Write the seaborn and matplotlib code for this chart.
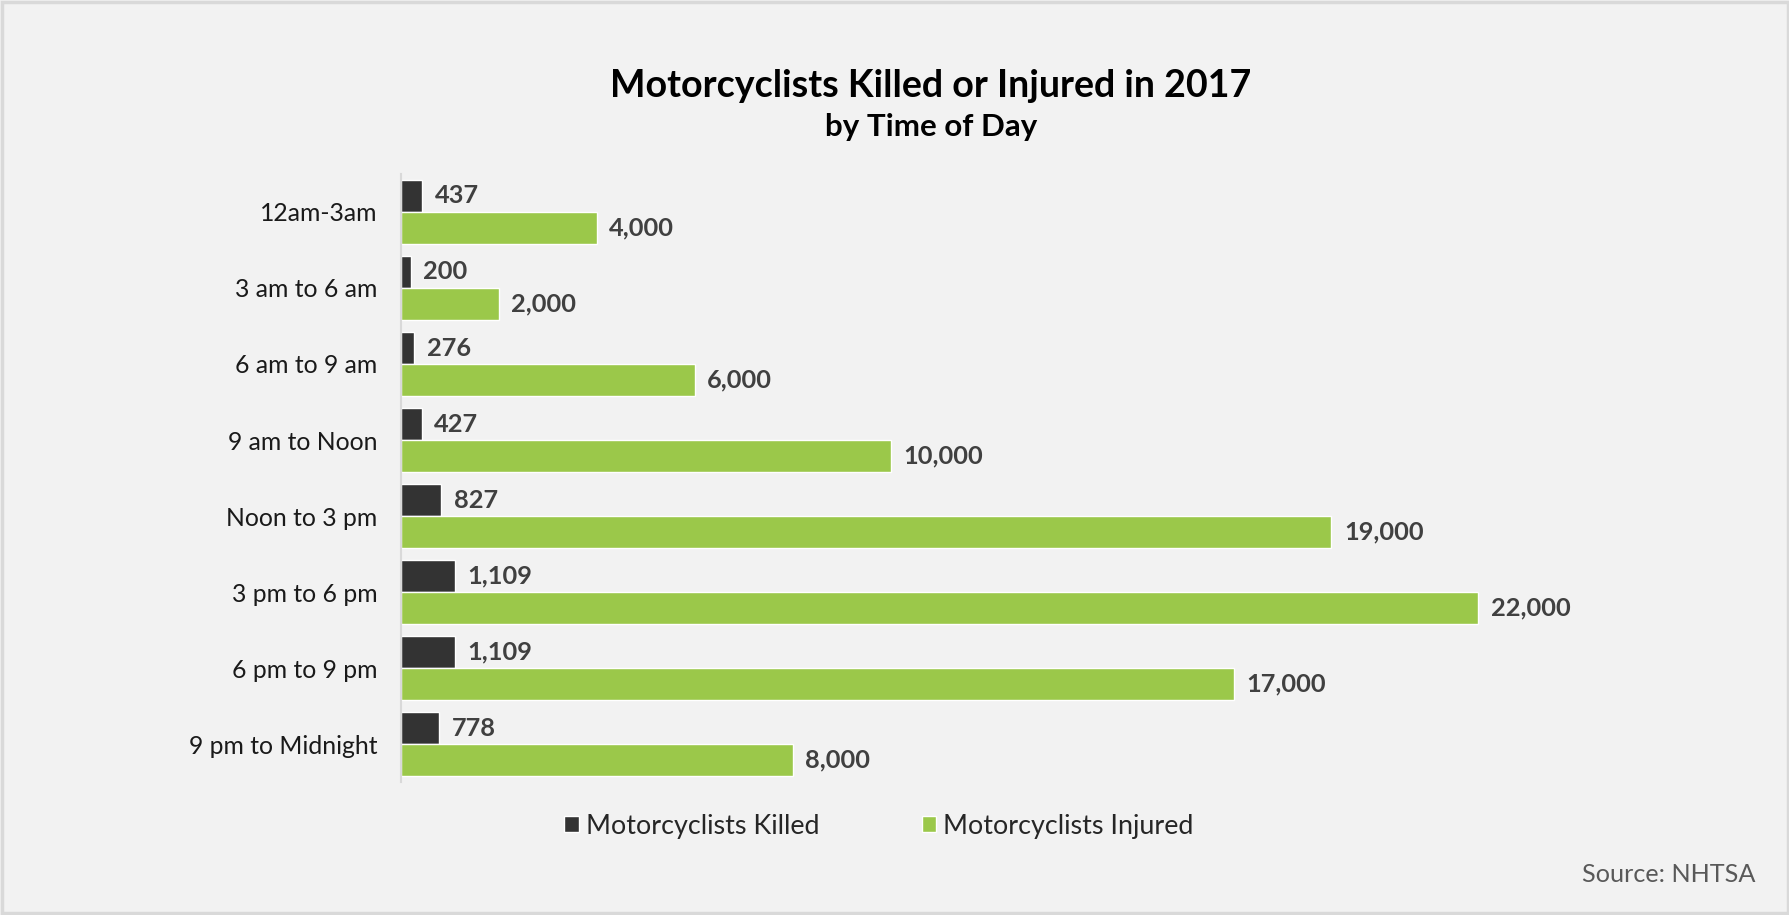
import pandas as pd
import seaborn as sns
import matplotlib.pyplot as plt
from matplotlib.patches import Rectangle

# 数据
periods = ['12am-3am', '3 am to 6 am', '6 am to 9 am', '9 am to Noon',
           'Noon to 3 pm', '3 pm to 6 pm', '6 pm to 9 pm', '9 pm to Midnight']
killed = [437, 200, 276, 427, 827, 1109, 1109, 778]
injured = [4000, 2000, 6000, 10000, 19000, 22000, 17000, 8000]
series_names = ['Motorcyclists Killed', 'Motorcyclists Injured']
colors = ['#333333', '#9bc84a']

df = pd.DataFrame({
    'period': periods * 2,
    'value': killed + injured,
    'series': [series_names[0]] * len(periods) + [series_names[1]] * len(periods),
})

sns.set_theme(style='white')
plt.rcParams['font.family'] = ['Lato', 'DejaVu Sans']

fig = plt.figure(figsize=(17.9, 9.15), dpi=100, facecolor='#f2f2f2')
ax = fig.add_axes([0.224, 0.145, 0.684, 0.665])
ax.set_facecolor('#f2f2f2')

sns.barplot(data=df, y='period', x='value', hue='series', orient='h',
            palette=colors, width=0.84, saturation=1, ax=ax, legend=True)

for cont in ax.containers:
    ax.bar_label(cont, labels=['{:,.0f}'.format(v) for v in cont.datavalues],
                 padding=9, fontsize=18.3, fontweight='bold', color='#404040')

ax.set_xlim(0, 25000)
ax.set_ylim(7.5, -0.5)
ax.set_xlabel('')
ax.set_ylabel('')
ax.set_xticks([])
ax.tick_params(axis='y', length=0, pad=17, labelsize=17.8, labelcolor='#1a1a1a')
for s in ['top', 'right', 'bottom']:
    ax.spines[s].set_visible(False)
ax.spines['left'].set_color('#d9d9d9')
ax.spines['left'].set_linewidth(1.5)

ax.get_legend().remove()
handles, labels = ax.get_legend_handles_labels()
fig.legend(handles, labels, loc='center', bbox_to_anchor=(0.491, 0.097), ncol=2,
           frameon=False, fontsize=19.4, handlelength=0.55, handleheight=0.55,
           handletextpad=0.25, columnspacing=3.8)

fig.text(0.52, 0.906, 'Motorcyclists Killed or Injured in 2017', ha='center', va='center',
         fontsize=27.1, fontweight='bold', color='#000000')
fig.text(0.52, 0.861, 'by Time of Day', ha='center', va='center',
         fontsize=22.5, fontweight='bold', color='#000000')
fig.text(0.981, 0.044, 'Source: NHTSA', ha='right', va='center',
         fontsize=18.2, color='#595959')

fig.patches.append(Rectangle((0.001, 0.002), 0.998, 0.996, transform=fig.transFigure,
                             fill=False, edgecolor='#d9d9d9', linewidth=2.5))

fig.savefig('out.png', dpi=100, facecolor=fig.get_facecolor())
